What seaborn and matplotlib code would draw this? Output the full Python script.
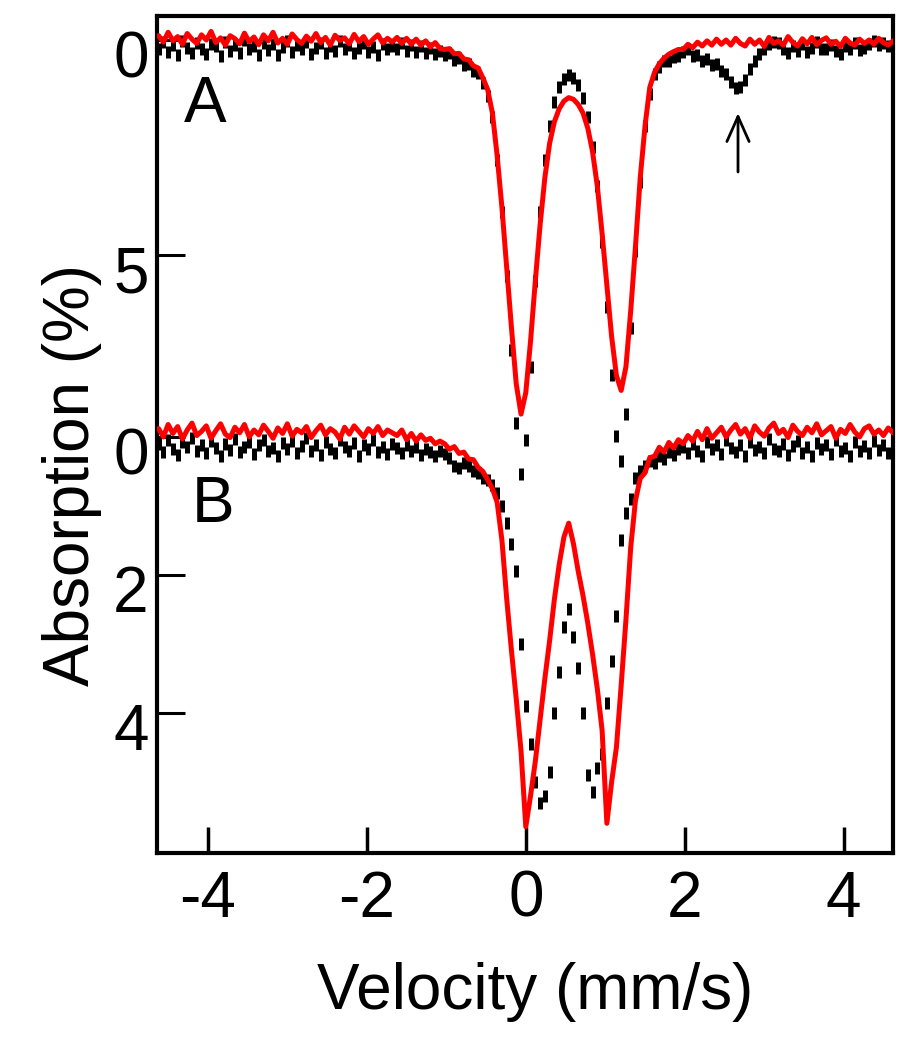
import numpy as np
import pandas as pd
import matplotlib
matplotlib.use("Agg")
import matplotlib.pyplot as plt
import matplotlib.transforms as mtransforms
import seaborn as sns

# ---------------- data ----------------
# spectrometer channels, 0.06 mm/s apart, centred on 0 mm/s
velocity = np.round(0.06 * (np.arange(155) - 77), 2)

# spectrum A (absorption %, positive = downward)
spec_A_red = [
    -0.10, 0.05, -0.18, 0.02, -0.08, 0.10, -0.15, -0.02, 0.08, -0.12,
    0.00, -0.20, 0.06, -0.05, 0.12, -0.10, -0.03, 0.09, -0.16, 0.04,
    -0.07, 0.11, -0.12, 0.02, -0.18, 0.07, -0.04, 0.10, -0.14, -0.01,
    0.08, -0.09, 0.03, -0.15, 0.06, -0.06, 0.12, -0.11, 0.01, -0.05,
    0.09, -0.13, 0.04, -0.08, 0.10, -0.02, -0.12, 0.07, -0.04, 0.05,
    -0.06, 0.08, -0.04, 0.10, -0.02, 0.12, 0.02, 0.16, 0.06, 0.20,
    0.22, 0.20, 0.32, 0.31, 0.44, 0.46, 0.60, 0.65, 0.88, 1.15,
    1.70, 2.70, 3.90, 5.30, 6.70, 8.00, 8.70, 8.20, 7.00, 5.60,
    4.30, 3.20, 2.40, 1.90, 1.60, 1.42, 1.34, 1.38, 1.50, 1.70,
    2.05, 2.60, 3.40, 4.50, 5.70, 6.90, 7.80, 8.15, 7.60, 6.30,
    4.80, 3.20, 2.00, 1.10, 0.75, 0.55, 0.42, 0.33, 0.27, 0.22,
    0.22, 0.10, 0.18, 0.05, 0.14, 0.02, 0.12, -0.02, 0.10, 0.00,
    0.12, -0.04, 0.08, 0.14, -0.02, 0.10, 0.00, 0.15, -0.06, 0.08,
    0.02, 0.12, -0.08, 0.06, 0.14, -0.03, 0.09, -0.06, 0.11, 0.01,
    -0.05, 0.10, 0.03, 0.15, -0.04, 0.07, 0.12, -0.02, 0.08, 0.00,
    0.10, -0.04, 0.06, 0.12, 0.02,
]
spec_A_black = [
    0.20, 0.05, 0.28, 0.12, 0.35, 0.02, 0.18, 0.30, 0.08, 0.22,
    0.32, 0.10, 0.15, 0.38, 0.04, 0.25, 0.12, 0.30, 0.00, 0.20,
    0.14, 0.34, 0.06, 0.24, 0.10, 0.36, 0.16, 0.02, 0.28, 0.12,
    0.22, 0.05, 0.32, 0.18, 0.08, 0.30, 0.14, 0.26, 0.03, 0.20,
    0.12, 0.30, 0.18, 0.06, 0.28, 0.16, 0.34, 0.10, 0.22, 0.14,
    0.20, 0.08, 0.25, 0.12, 0.28, 0.15, 0.30, 0.18, 0.32, 0.26,
    0.36, 0.30, 0.46, 0.42, 0.58, 0.56, 0.72, 0.76, 1.00, 1.30,
    1.80, 2.80, 4.00, 5.50, 7.20, 8.90, 10.10, 9.30, 7.60, 5.60,
    4.00, 2.80, 2.00, 1.45, 1.10, 0.90, 0.82, 0.88, 1.05, 1.35,
    1.80, 2.50, 3.40, 4.70, 6.20, 7.80, 9.20, 9.80, 8.70, 6.70,
    4.90, 3.30, 2.00, 1.25, 0.80, 0.62, 0.50, 0.48, 0.40, 0.38,
    0.28, 0.22, 0.38, 0.36, 0.50, 0.44, 0.58, 0.56, 0.72, 0.80,
    0.98, 1.12, 1.10, 0.92, 0.68, 0.50, 0.32, 0.22, 0.10, 0.05,
    0.08, 0.22, 0.30, 0.15, 0.25, 0.10, 0.28, 0.18, 0.05, 0.22,
    0.20, 0.12, 0.26, 0.32, 0.14, 0.22, 0.08, 0.24, 0.18, 0.10,
    0.02, 0.12, 0.06, 0.15, 0.05,
]

# spectrum B (absorption %, positive = downward)
spec_B_red = [
    -0.12, 0.00, -0.18, -0.05, -0.15, 0.03, -0.10, -0.20, -0.02, -0.08,
    -0.16, 0.02, -0.09, -0.19, -0.04, 0.01, -0.14, -0.06, -0.18, 0.00,
    -0.10, -0.03, -0.17, -0.08, 0.02, -0.13, -0.05, -0.19, -0.01, -0.11,
    -0.06, -0.15, 0.01, -0.09, -0.17, -0.03, -0.12, -0.07, 0.03, -0.14,
    -0.04, -0.16, -0.08, 0.00, -0.12, -0.05, -0.15, -0.02, -0.10, -0.06,
    -0.02, -0.10, 0.04, -0.05, 0.06, -0.03, 0.05, 0.02, 0.10, 0.06,
    0.10, 0.18, 0.14, 0.24, 0.22, 0.32, 0.33, 0.44, 0.50, 0.62,
    0.75, 0.95, 1.50, 2.35, 3.10, 3.80, 4.55, 5.65, 5.20, 4.70,
    4.10, 3.50, 2.95, 2.35, 1.85, 1.45, 1.25, 1.55, 1.95, 2.30,
    2.70, 3.15, 3.65, 4.25, 5.60, 5.00, 4.50, 3.60, 2.65, 1.60,
    0.92, 0.60, 0.52, 0.30, 0.28, 0.15, 0.22, 0.08, 0.16, 0.04,
    0.10, -0.02, 0.06, -0.08, 0.04, -0.12, 0.02, -0.06, -0.14, 0.00,
    -0.10, -0.18, -0.04, -0.12, 0.02, -0.16, -0.07, -0.01, -0.13, -0.20,
    -0.05, -0.11, 0.01, -0.17, -0.08, -0.02, -0.14, -0.06, -0.19, -0.03,
    -0.09, -0.15, 0.02, -0.11, -0.05, -0.18, -0.07, 0.00, -0.12, -0.16,
    -0.04, -0.10, -0.02, -0.13, -0.06,
]
spec_B_black = [
    0.10, 0.22, 0.05, 0.18, 0.26, 0.08, 0.15, 0.02, 0.20, 0.12,
    0.24, 0.06, 0.16, 0.28, 0.10, 0.19, 0.03, 0.22, 0.14, 0.08,
    0.25, 0.12, 0.04, 0.20, 0.16, 0.27, 0.09, 0.18, 0.06, 0.23,
    0.13, 0.01, 0.21, 0.11, 0.26, 0.07, 0.17, 0.24, 0.05, 0.15,
    0.20, 0.09, 0.27, 0.12, 0.18, 0.04, 0.22, 0.14, 0.25, 0.10,
    0.16, 0.24, 0.12, 0.20, 0.15, 0.26, 0.18, 0.22, 0.28, 0.20,
    0.25, 0.30, 0.42, 0.45, 0.38, 0.42, 0.50, 0.52, 0.60, 0.62,
    0.70, 0.82, 1.00, 1.25, 1.55, 1.95, 3.00, 3.90, 4.45, 5.00,
    5.30, 5.20, 4.85, 4.00, 3.40, 2.75, 2.50, 2.90, 3.35, 4.00,
    4.90, 5.15, 4.80, 4.60, 3.85, 3.25, 2.60, 1.50, 1.10, 0.90,
    0.60, 0.50, 0.42, 0.35, 0.38, 0.28, 0.32, 0.22, 0.26, 0.18,
    0.14, 0.24, 0.10, 0.20, 0.27, 0.08, 0.18, 0.12, 0.25, 0.05,
    0.16, 0.22, 0.11, 0.28, 0.07, 0.19, 0.14, 0.24, 0.03, 0.17,
    0.21, 0.10, 0.26, 0.13, 0.06, 0.23, 0.15, 0.27, 0.09, 0.18,
    0.12, 0.25, 0.04, 0.20, 0.16, 0.28, 0.08, 0.21, 0.13, 0.24,
    0.06, 0.19, 0.11, 0.23, 0.09,
]

x_ticks = [-4, -2, 0, 2, 4]
y_ticks_A = [0, 5]
y_ticks_B = [0, 2, 4]
panel_labels = ["A", "B"]
arrow_velocity = 2.67

df = pd.DataFrame({
    "velocity": velocity,
    "A_red": spec_A_red,
    "A_black": spec_A_black,
    "B_red": spec_B_red,
    "B_black": spec_B_black,
})

# ---------------- style ----------------
sns.set_theme(style="white")
plt.rcParams["font.family"] = ["Liberation Sans", "DejaVu Sans"]
plt.rcParams["text.color"] = "black"
plt.rcParams["axes.labelcolor"] = "black"
FS = 46

fig = plt.figure(figsize=(9.16, 10.5), dpi=100)
pos = [157 / 916, 1 - 853 / 1050, (893 - 157) / 916, (853 - 16) / 1050]
ax = fig.add_axes(pos)
axB = fig.add_axes(pos)
axB.patch.set_visible(False)

red = "#ff0000"
for a, rc, bc in [(ax, "A_red", "A_black"), (axB, "B_red", "B_black")]:
    sns.scatterplot(data=df, x="velocity", y=bc, marker="|", s=85,
                    linewidth=3.6, color="black", edgecolor="black",
                    ax=a, legend=False, zorder=2)
    sns.lineplot(data=df, x="velocity", y=rc, color=red, linewidth=3.6,
                 estimator=None, sort=False, ax=a, zorder=3)

xlim = (-4.64, 4.62)
ax.set_xlim(*xlim)
axB.set_xlim(*xlim)
ax.set_ylim(18.907, -0.558)
axB.set_ylim(6.03, -6.10)

# frame
for s in ax.spines.values():
    s.set_visible(True)
    s.set_linewidth(3)
    s.set_color("black")
for s in axB.spines.values():
    s.set_visible(False)

ax.set_xticks(x_ticks)
ax.set_xticklabels([f"{t:d}" for t in x_ticks])
ax.set_yticks(y_ticks_A)
ax.set_yticklabels([str(t) for t in y_ticks_A])
axB.set_yticks(y_ticks_B)
axB.set_yticklabels([str(t) for t in y_ticks_B])

ax.tick_params(axis="x", direction="in", length=19, width=2.5, labelsize=FS,
               pad=12, bottom=True, top=False, colors="black")
ax.tick_params(axis="y", direction="in", length=20, width=2.2, labelsize=FS,
               pad=6, left=True, right=False, colors="black")
axB.tick_params(axis="x", bottom=False, labelbottom=False)
axB.tick_params(axis="y", direction="in", length=20, width=2.2, labelsize=FS,
                pad=6, left=True, right=False, colors="black")

ax.set_xlabel("Velocity (mm/s)", fontsize=FS, color="black")
ax.xaxis.set_label_coords(0.514, -0.13)
ax.set_ylabel("Absorption (%)", fontsize=FS, color="black")
ax.yaxis.set_label_coords(-0.075, 0.452)
axB.set_ylabel("")
axB.set_xlabel("")

# panel letters
ax.text(-4.04, 1.91, panel_labels[0], fontsize=FS, ha="center",
        va="baseline", color="black")
axB.text(-3.94, 1.23, panel_labels[1], fontsize=FS, ha="center",
         va="baseline", color="black")

# arrow marking the extra feature in A
ax.annotate("", xy=(arrow_velocity, 1.70), xytext=(arrow_velocity, 3.07),
            arrowprops=dict(arrowstyle="->,head_length=0.9,head_width=0.4",
                            lw=2, color="black", mutation_scale=20,
                            shrinkA=0, shrinkB=0), zorder=5)

# shift y tick labels slightly downward as in the original
off = mtransforms.ScaledTranslation(0, -14 / 100, fig.dpi_scale_trans)
for lbl in list(ax.get_yticklabels()) + list(axB.get_yticklabels()):
    lbl.set_transform(lbl.get_transform() + off)

fig.savefig("out.png", dpi=100)
